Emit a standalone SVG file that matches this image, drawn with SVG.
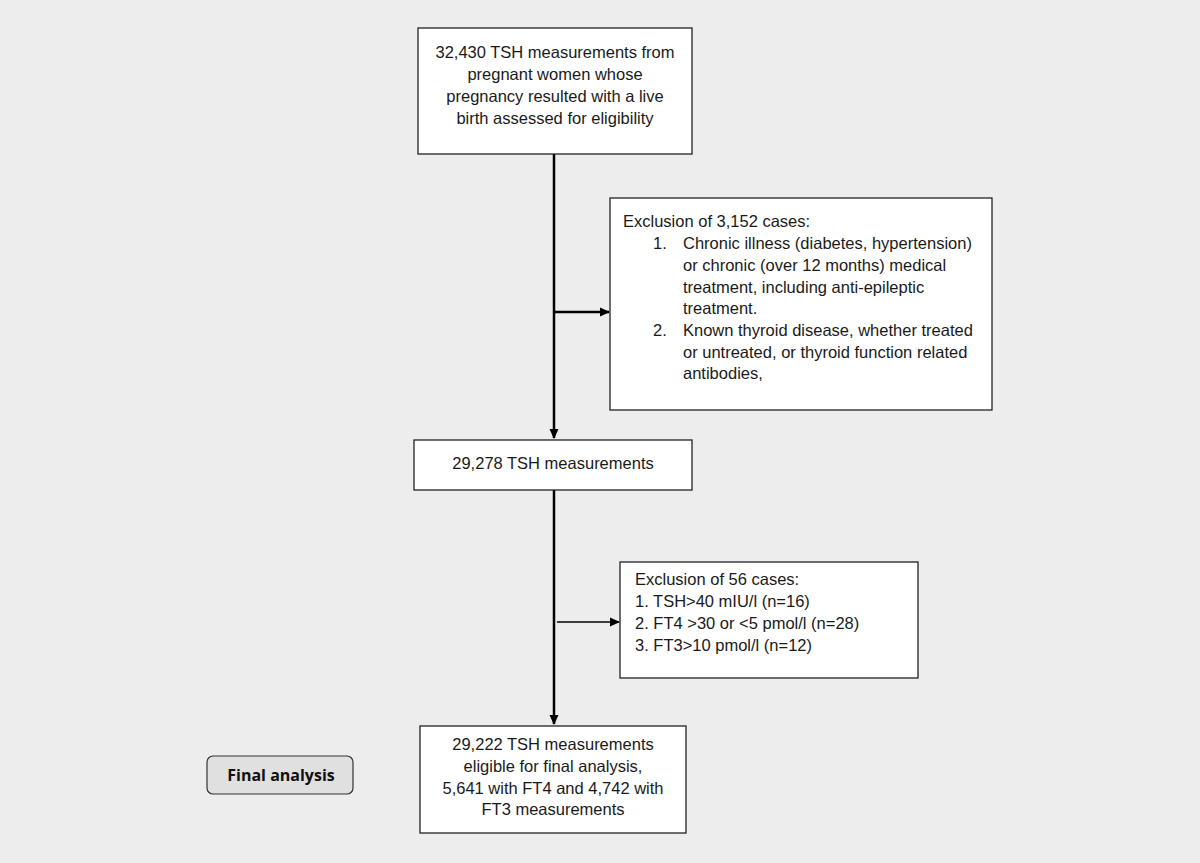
<svg xmlns="http://www.w3.org/2000/svg" width="1200" height="863" viewBox="0 0 1200 863">
<defs>
<marker id="ah" markerWidth="10" markerHeight="10" refX="9" refY="5" orient="auto" markerUnits="userSpaceOnUse">
<path d="M0,0.5 L10,5 L0,9.5 Z" fill="#000"/>
</marker>
<style>
.box{fill:#fff;stroke:#222;stroke-width:1.3}
.t{font-family:"Liberation Sans",Arial,sans-serif;font-size:16.5px;fill:#1a1a1a}
.c{text-anchor:middle}
.ln{stroke:#000;fill:none}
</style>
</defs>
<rect width="1200" height="863" fill="#ededed"/>
<g id="connectors">
<line class="ln" x1="554" y1="154" x2="554" y2="438" stroke-width="2.5" marker-end="url(#ah)"/>
<line class="ln" x1="554" y1="312" x2="609" y2="312" stroke-width="2.5" marker-end="url(#ah)"/>
<line class="ln" x1="554" y1="490" x2="554" y2="724" stroke-width="2.5" marker-end="url(#ah)"/>
<line class="ln" x1="557" y1="622" x2="619" y2="622" stroke-width="1.5" marker-end="url(#ah)"/>
</g>
<g id="n1">
<rect class="box" x="418" y="28" width="274" height="126"/>
<text class="t c" x="555" y="58">32,430 TSH measurements from</text>
<text class="t c" x="555" y="80">pregnant women whose</text>
<text class="t c" x="555" y="102">pregnancy resulted with a live</text>
<text class="t c" x="555" y="124">birth assessed for eligibility</text>
</g>
<g id="n2">
<rect class="box" x="610" y="198" width="382" height="212"/>
<text class="t" x="623" y="227">Exclusion of 3,152 cases:</text>
<text class="t" x="653" y="249">1.</text>
<text class="t" x="683" y="249">Chronic illness (diabetes, hypertension)</text>
<text class="t" x="683" y="271">or chronic (over 12 months) medical</text>
<text class="t" x="683" y="293">treatment, including anti-epileptic</text>
<text class="t" x="683" y="314">treatment.</text>
<text class="t" x="653" y="336">2.</text>
<text class="t" x="683" y="336">Known thyroid disease, whether treated</text>
<text class="t" x="683" y="358">or untreated, or thyroid function related</text>
<text class="t" x="683" y="379">antibodies,</text>
</g>
<g id="n3">
<rect class="box" x="414" y="440" width="278" height="50"/>
<text class="t c" x="553" y="469">29,278 TSH measurements</text>
</g>
<g id="n4">
<rect class="box" x="620" y="562" width="298" height="116"/>
<text class="t" x="635" y="585">Exclusion of 56 cases:</text>
<text class="t" x="635" y="607">1. TSH&gt;40 mIU/l (n=16)</text>
<text class="t" x="635" y="629">2. FT4 &gt;30 or &lt;5 pmol/l (n=28)</text>
<text class="t" x="635" y="651">3. FT3&gt;10 pmol/l (n=12)</text>
</g>
<g id="n5">
<rect class="box" x="420" y="726" width="266" height="107"/>
<text class="t c" x="553" y="750">29,222 TSH measurements</text>
<text class="t c" x="553" y="772">eligible for final analysis,</text>
<text class="t c" x="553" y="794">5,641 with FT4 and 4,742 with</text>
<text class="t c" x="553" y="815">FT3 measurements</text>
</g>
<g id="final">
<rect x="207" y="756" width="146" height="38" rx="6" fill="#e0e0e0" stroke="#333" stroke-width="1.2"/>
<text x="281" y="781" text-anchor="middle" font-family="'Open Sans','Noto Sans',sans-serif" font-weight="bold" font-size="16" fill="#111">Final analysis</text>
</g>
</svg>
